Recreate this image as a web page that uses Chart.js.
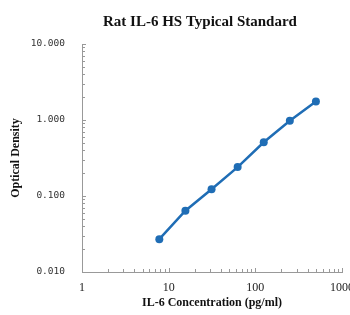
<!DOCTYPE html>
<html>
<head>
<meta charset="utf-8">
<script src="https://cdn.jsdelivr.net/npm/chart.js@4/dist/chart.umd.min.js"></script>
<style>
  html, body { margin: 0; padding: 0; background: #fff; }
</style>
</head>
<body>
<canvas id="chart" width="350" height="315"></canvas>
<script>
const titleText = 'Rat IL-6 HS Typical Standard';
const xTitle = 'IL-6 Concentration (pg/ml)';
const yTitle = 'Optical Density';

const concentrations = [7.8, 15.6, 31.25, 62.5, 125, 250, 500];
const opticalDensity = [0.027, 0.064, 0.123, 0.24, 0.51, 0.98, 1.75];

const xTicks = [1, 10, 100, 1000];
const yTicks = [0.01, 0.1, 1, 10];

const lineColor = '#1f6db5';

// inward minor/major tick marks + title, drawn against the library scales
const axisDecor = {
  id: 'axisDecor',
  afterDraw(chart) {
    const { ctx, scales: { x, y }, chartArea } = chart;
    ctx.save();
    ctx.strokeStyle = '#999';
    ctx.lineWidth = 1;
    ctx.beginPath();
    for (let d = 0; d < xTicks.length; d++) {
      const base = xTicks[d];
      for (let m = 1; m <= 9; m++) {
        const v = base * m;
        if (v > xTicks[xTicks.length - 1]) break;
        const px = Math.round(x.getPixelForValue(v)) + 0.5;
        const len = m === 1 ? 4 : 3;
        ctx.moveTo(px, chartArea.bottom);
        ctx.lineTo(px, chartArea.bottom - len);
      }
    }
    for (let d = 0; d < yTicks.length; d++) {
      const base = yTicks[d];
      for (let m = 1; m <= 9; m++) {
        const v = base * m;
        if (v > yTicks[yTicks.length - 1] + 1e-9) break;
        const py = Math.round(y.getPixelForValue(v)) + 0.5;
        const len = m === 1 ? 4 : 3;
        ctx.moveTo(chartArea.left, py);
        ctx.lineTo(chartArea.left + len, py);
      }
    }
    ctx.stroke();

    ctx.fillStyle = '#111';
    ctx.font = 'bold 15px "Liberation Serif", serif';
    ctx.textAlign = 'center';
    ctx.textBaseline = 'middle';
    ctx.fillText(titleText, 200, 22);
    ctx.restore();
  }
};

new Chart(document.getElementById('chart'), {
  type: 'line',
  data: {
    datasets: [{
      data: concentrations.map((c, i) => ({ x: c, y: opticalDensity[i] })),
      borderColor: lineColor,
      backgroundColor: lineColor,
      borderWidth: 2.5,
      pointRadius: 4,
      pointBorderWidth: 0,
      pointHoverRadius: 4,
      tension: 0,
      fill: false,
    }],
  },
  options: {
    responsive: false,
    animation: false,
    layout: { padding: { top: 44, right: 8, left: 0, bottom: 0 } },
    plugins: {
      legend: { display: false },
      title: { display: false },
      tooltip: { enabled: false },
    },
    scales: {
      x: {
        type: 'logarithmic',
        min: 1,
        max: 1000,
        afterBuildTicks: scale => { scale.ticks = xTicks.map(v => ({ value: v })); },
        afterFit: scale => {
          scale.height = 43;
          scale.paddingRight = 0;
          scale.paddingLeft = 0;
        },
        grid: { display: false, drawTicks: false },
        border: { display: true, color: '#999', width: 1 },
        ticks: {
          padding: 9,
          color: '#222',
          font: { family: '"Liberation Serif", serif', size: 12 },
          callback: v => String(v),
          maxRotation: 0,
          autoSkip: false,
        },
        title: {
          display: true,
          text: xTitle,
          color: '#111',
          font: { family: '"Liberation Serif", serif', size: 12, weight: 'bold' },
          padding: { top: 0, bottom: 5 },
        },
      },
      y: {
        type: 'logarithmic',
        min: 0.01,
        max: 10,
        afterBuildTicks: scale => { scale.ticks = yTicks.map(v => ({ value: v })); },
        afterFit: scale => { scale.width = 82; },
        grid: { display: false, drawTicks: false },
        border: { display: true, color: '#999', width: 1 },
        ticks: {
          padding: 17,
          color: '#333',
          font: { family: '"DejaVu Sans Mono", monospace', size: 9.5 },
          callback: v => Number(v).toFixed(3),
          autoSkip: false,
        },
        title: {
          display: true,
          text: yTitle,
          color: '#111',
          font: { family: '"Liberation Serif", serif', size: 12, weight: 'bold' },
          padding: { top: 9, bottom: 0 },
        },
      },
    },
  },
  plugins: [axisDecor],
});
</script>
</body>
</html>
